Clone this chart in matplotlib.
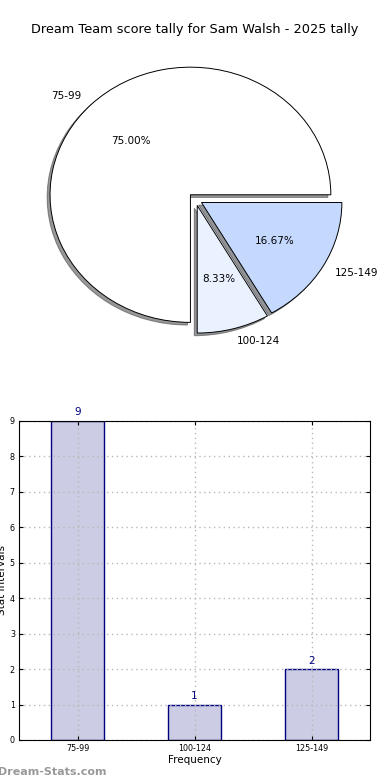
import matplotlib
matplotlib.use("Agg")
import matplotlib.pyplot as plt

# data
labels = ["75-99", "100-124", "125-149"]
counts = [9, 1, 2]
pie_colors = ["#ffffff", "#eaf1ff", "#c5d9ff"]
title = "Dream Team score tally for Sam Walsh - 2025 tally"

fig = plt.figure(figsize=(3.9, 7.8), dpi=100)

# pie on top, not equal aspect (old style ellipse)
ax1 = fig.add_axes([0.051, 0.540, 0.90, 0.409])
ax1.pie(counts, labels=labels, colors=pie_colors, autopct="%1.2f%%",
        explode=[0.05, 0.05, 0.05],
        shadow={"ox": -0.015, "oy": -0.015, "shade": 0.8},
        startangle=0,
        wedgeprops=dict(edgecolor="black", linewidth=0.7),
        textprops=dict(fontsize=7.5))
ax1.set_aspect("auto")
ax1.set_xlim(-1.25, 1.25)
ax1.set_ylim(-1.25, 1.25)
fig.text(0.5, 0.962, title, ha="center", va="center", fontsize=9.3)

# bar chart below
ax2 = fig.add_axes([0.049, 0.0513, 0.90, 0.409])
x = range(len(labels))
bars = ax2.bar(x, counts, width=0.45, color="#ccccE4", edgecolor="navy",
               linewidth=1.0)
for b, c in zip(bars, counts):
    ax2.text(b.get_x() + b.get_width() / 2, c + 0.1, str(c), ha="center",
             va="bottom", color="navy", fontsize=7.5)
ax2.set_xlim(-0.5, 2.5)
ax2.set_ylim(0, 9)
ax2.set_xticks(list(x))
ax2.set_xticklabels(labels)
ax2.set_yticks(range(10))
ax2.tick_params(labelsize=5.8, direction="in", top=True, right=True,
                length=3, pad=3)
ax2.grid(True, linestyle=(0, (1, 2.5)), color="#b8b8b8", linewidth=1.0)
ax2.set_axisbelow(False)
for sp in ax2.spines.values():
    sp.set_zorder(5)
ax2.set_xlabel("Frequency", fontsize=7.5, labelpad=1)
ax2.set_ylabel("Stat Intervals", fontsize=7.5, labelpad=0)
ax2.yaxis.set_label_coords(-0.035, 0.5)

fig.text(-0.005, 0.01, "Dream-Stats.com", fontsize=8, color="#999999",
         fontweight="bold", ha="left", va="center")

fig.savefig("out.png", dpi=100)
